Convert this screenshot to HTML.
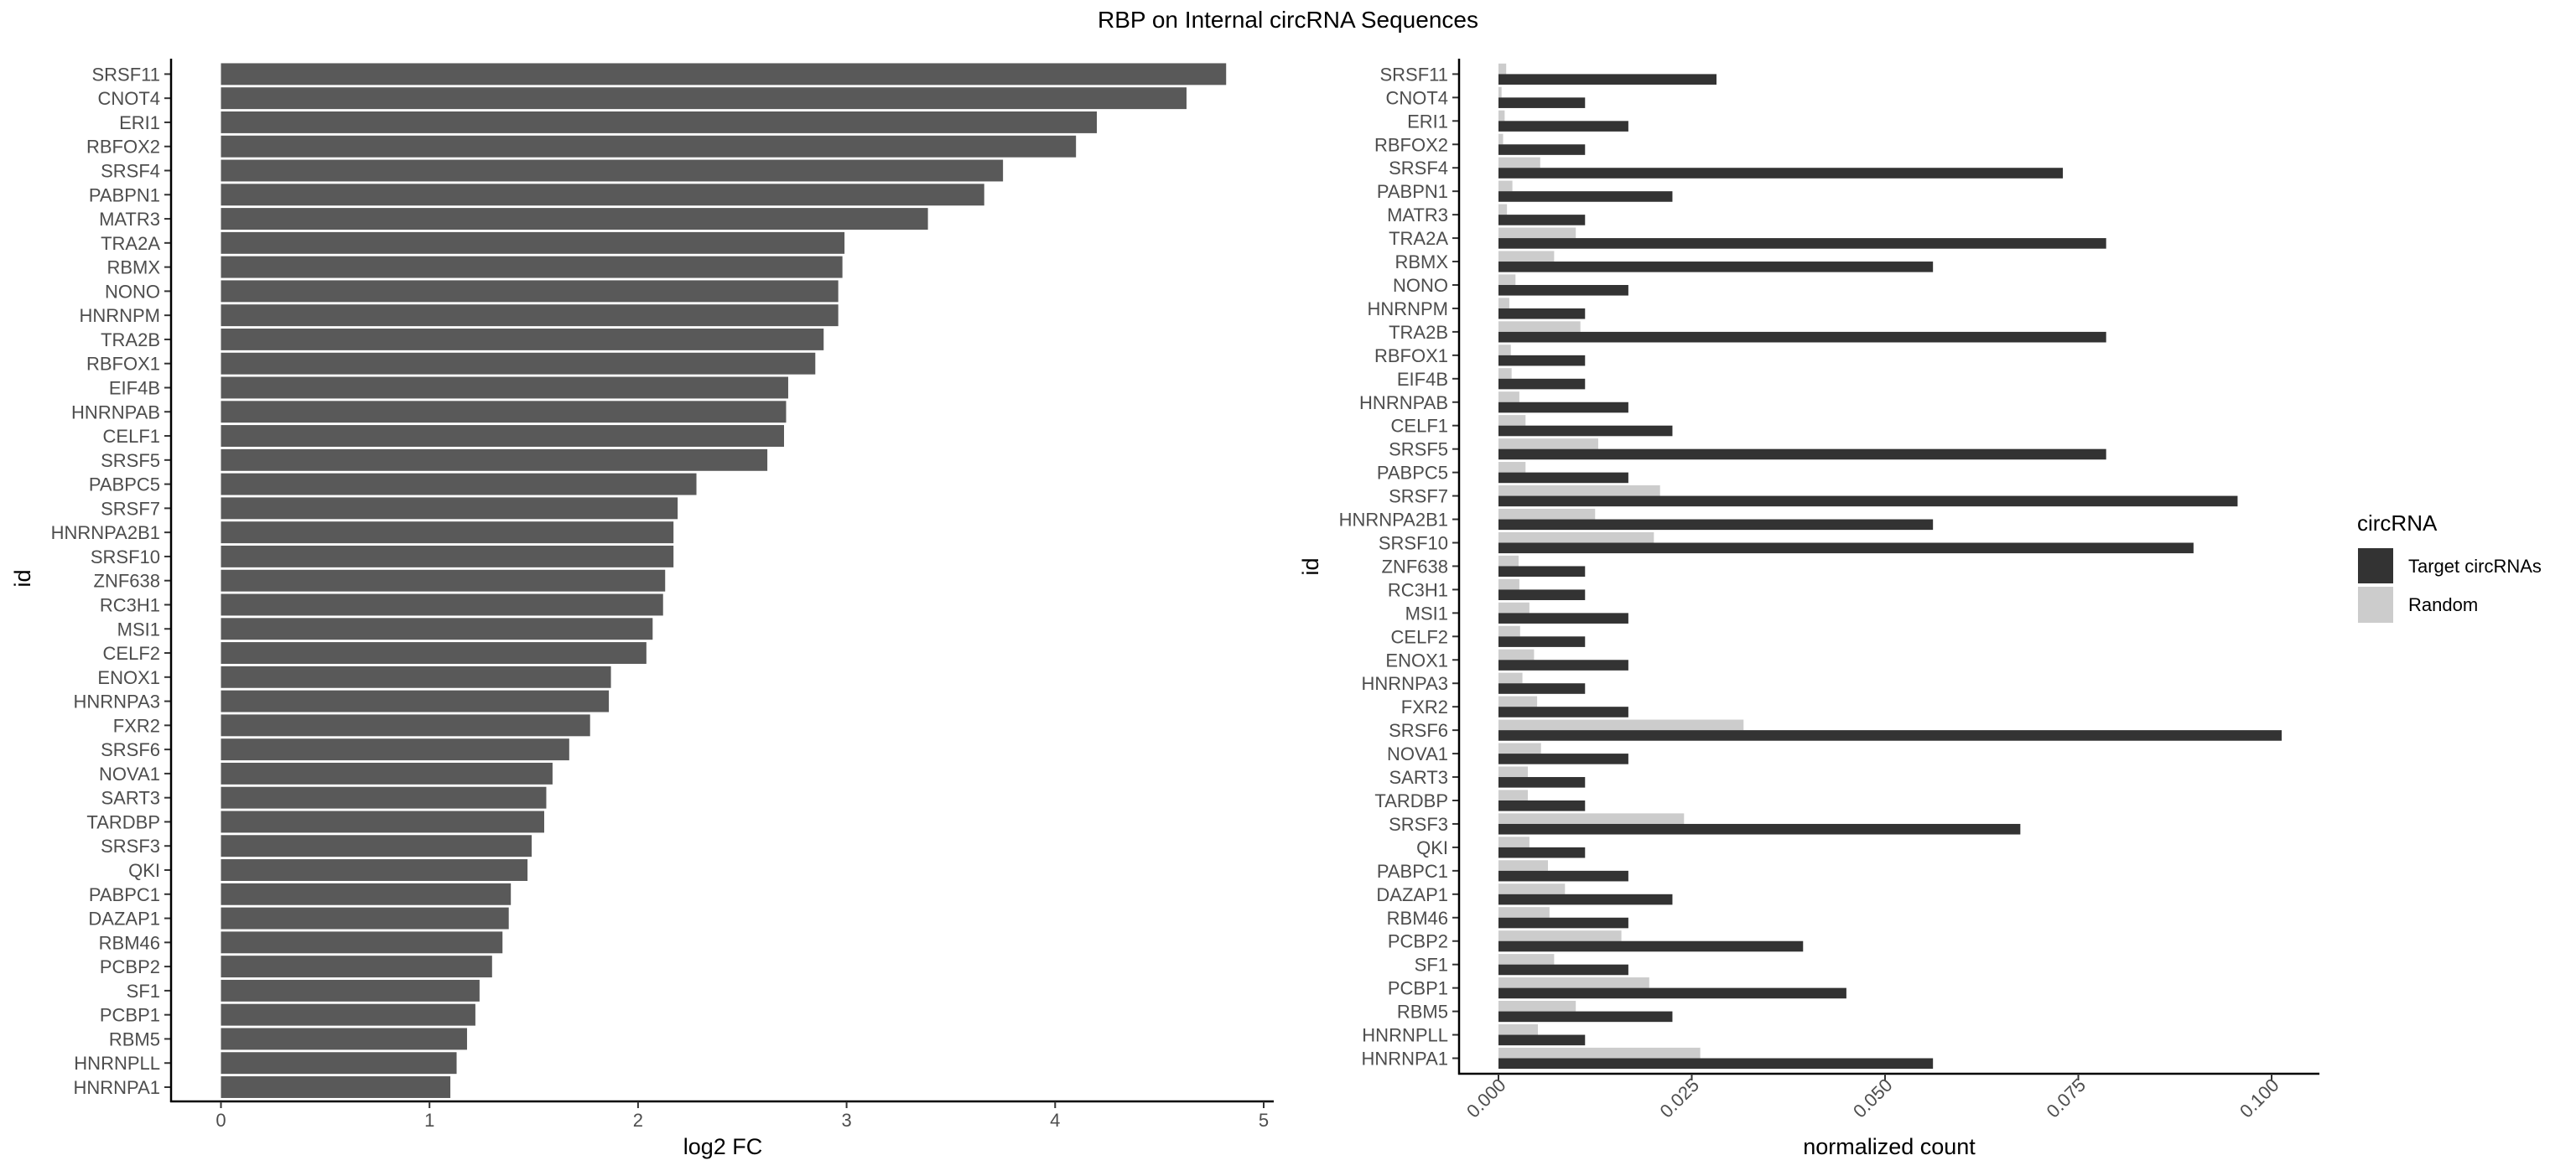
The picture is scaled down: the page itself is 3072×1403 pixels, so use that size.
<!DOCTYPE html>
<html><head><meta charset="utf-8"><style>
html,body{margin:0;padding:0;background:#fff;}
svg{display:block;font-family:"Liberation Sans",Arial,sans-serif;}
</style></head><body>
<svg id="c" width="3072" height="1403" viewBox="0 0 3072 1403" xmlns="http://www.w3.org/2000/svg">
<text x="1536" y="33" text-anchor="middle" font-size="28" fill="#000">RBP on Internal circRNA Sequences</text>
<g id="left"></g>
<g id="right"></g>
<g>
<text x="2811" y="633" font-size="26" fill="#000">circRNA</text>
<rect x="2812" y="654" width="42" height="42" fill="#333333"/>
<text x="2872" y="683" font-size="22" fill="#000">Target circRNAs</text>
<rect x="2812" y="700" width="42" height="43" fill="#cccccc"/>
<text x="2872" y="729" font-size="22" fill="#000">Random</text>
</g>
</svg>
<script>
const ids = ["SRSF11","CNOT4","ERI1","RBFOX2","SRSF4","PABPN1","MATR3","TRA2A","RBMX","NONO","HNRNPM","TRA2B","RBFOX1","EIF4B","HNRNPAB","CELF1","SRSF5","PABPC5","SRSF7","HNRNPA2B1","SRSF10","ZNF638","RC3H1","MSI1","CELF2","ENOX1","HNRNPA3","FXR2","SRSF6","NOVA1","SART3","TARDBP","SRSF3","QKI","PABPC1","DAZAP1","RBM46","PCBP2","SF1","PCBP1","RBM5","HNRNPLL","HNRNPA1"];
const log2fc = [4.82,4.63,4.20,4.10,3.75,3.66,3.39,2.99,2.98,2.96,2.96,2.89,2.85,2.72,2.71,2.70,2.62,2.28,2.19,2.17,2.17,2.13,2.12,2.07,2.04,1.87,1.86,1.77,1.67,1.59,1.56,1.55,1.49,1.47,1.39,1.38,1.35,1.30,1.24,1.22,1.18,1.13,1.10];
const targetCount = [0.0282,0.0112,0.0168,0.0112,0.0730,0.0225,0.0112,0.0786,0.0562,0.0168,0.0112,0.0786,0.0112,0.0112,0.0168,0.0225,0.0786,0.0168,0.0956,0.0562,0.0899,0.0112,0.0112,0.0168,0.0112,0.0168,0.0112,0.0168,0.1013,0.0168,0.0112,0.0112,0.0675,0.0112,0.0168,0.0225,0.0168,0.0394,0.0168,0.0450,0.0225,0.0112,0.0562];
const randomCount = [0.0010,0.0004,0.0008,0.0006,0.0054,0.0018,0.0011,0.0100,0.0072,0.0022,0.0014,0.0106,0.0016,0.0017,0.0027,0.0035,0.0129,0.0035,0.0209,0.0125,0.0201,0.0026,0.0027,0.0040,0.0028,0.0046,0.0031,0.0050,0.0317,0.0055,0.0038,0.0038,0.0240,0.0040,0.0064,0.0086,0.0066,0.0159,0.0072,0.0195,0.0100,0.0051,0.0261];
const leftTicks = [0,1,2,3,4,5];
const leftTickLabels = ["0","1","2","3","4","5"];
const rightTicks = [0,0.025,0.05,0.075,0.1];
const rightTickLabels = ["0.000","0.025","0.050","0.075","0.100"];

const NS="http://www.w3.org/2000/svg";
function mk(parent,tag,attrs,text){const e=document.createElementNS(NS,tag);for(const k in attrs)e.setAttribute(k,attrs[k]);if(text!==undefined)e.textContent=text;parent.appendChild(e);return e;}

// Left panel
const L=document.getElementById('left');
const lx=v=>263.5+v*248.7;
const n=ids.length;
const lyStep=(1297-88.4)/(n-1);
const ly=i=>88.4+i*lyStep;
const lbh=lyStep*0.9;
ids.forEach((id,i)=>{
  const r=mk(L,'rect',{x:lx(0),y:ly(i)-lbh/2,width:lx(log2fc[i])-lx(0),height:lbh,fill:'#595959'});
  
  
  const t=mk(L,'text',{x:191,y:ly(i)+8,'text-anchor':'end','font-size':22,fill:'#4d4d4d'},id);
  
  
  mk(L,'line',{x1:196,x2:204,y1:ly(i),y2:ly(i),stroke:'#333',  'stroke-width':2});
});
mk(L,'line',{x1:204,x2:204,y1:70,y2:1315,stroke:'#000','stroke-width':2.5});
mk(L,'line',{x1:203,x2:1519,y1:1314,y2:1314,stroke:'#000','stroke-width':2.5});
leftTicks.forEach((v,k)=>{
  mk(L,'line',{x1:lx(v),x2:lx(v),y1:1314,y2:1322,stroke:'#333','stroke-width':2});
  const t=mk(L,'text',{x:lx(v),y:1344,'text-anchor':'middle','font-size':22,fill:'#4d4d4d'},leftTickLabels[k]);
  
  
});
const lt=mk(L,'text',{x:862,y:1377,'text-anchor':'middle','font-size':27,fill:'#000'},'log2 FC');


const lyt=mk(L,'text',{x:0,y:0,'text-anchor':'middle','font-size':27,fill:'#000',transform:'translate(36,690) rotate(-90)'},'id');



// Right panel
const R=document.getElementById('right');
const rx=v=>1787+v*9220;
const ryStep=(1262.5-88.4)/(n-1);
const ry=i=>88.4+i*ryStep;
const hb=ryStep*0.9/2;
ids.forEach((id,i)=>{
  const a=mk(R,'rect',{x:rx(0),y:ry(i)-hb,width:rx(randomCount[i])-rx(0),height:hb,fill:'#cccccc'});
  
  
  const b=mk(R,'rect',{x:rx(0),y:ry(i),width:rx(targetCount[i])-rx(0),height:hb,fill:'#333333'});
  
  
  const t=mk(R,'text',{x:1727,y:ry(i)+8,'text-anchor':'end','font-size':22,fill:'#4d4d4d'},id);
  
  
  mk(R,'line',{x1:1732,x2:1740,y1:ry(i),y2:ry(i),stroke:'#333','stroke-width':2});
});
mk(R,'line',{x1:1740,x2:1740,y1:70,y2:1282,stroke:'#000','stroke-width':2.5});
mk(R,'line',{x1:1739,x2:2766,y1:1281,y2:1281,stroke:'#000','stroke-width':2.5});
rightTicks.forEach((v,k)=>{
  mk(R,'line',{x1:rx(v),x2:rx(v),y1:1281,y2:1289,stroke:'#333','stroke-width':2});
  const t=mk(R,'text',{x:0,y:0,'text-anchor':'end','font-size':22,fill:'#4d4d4d',transform:'translate('+(rx(v)+10)+',1296) rotate(-45)'},rightTickLabels[k]);
  
  
});
const rt=mk(R,'text',{x:2253,y:1377,'text-anchor':'middle','font-size':27,fill:'#000'},'normalized count');


const ryt=mk(R,'text',{x:0,y:0,'text-anchor':'middle','font-size':27,fill:'#000',transform:'translate(1572,676) rotate(-90)'},'id');


</script>
</body></html>
